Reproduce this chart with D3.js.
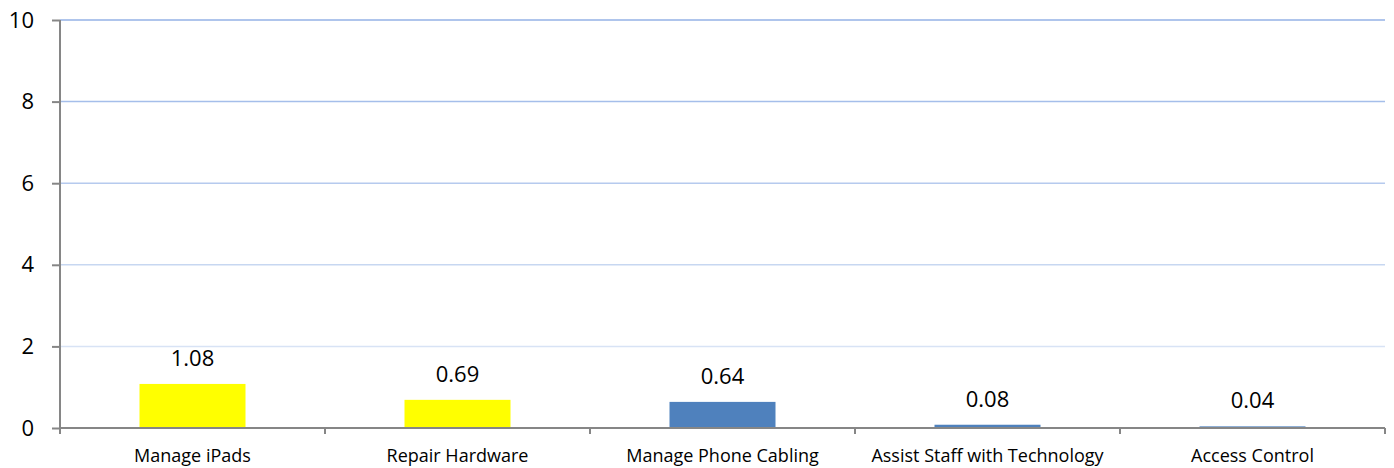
<!DOCTYPE html>
<html>
<head>
<meta charset="utf-8">
<script src="https://cdn.jsdelivr.net/npm/d3@7"></script>
<style>
  body { margin: 0; background: #fff; }
  svg text { font-family: "Open Sans", sans-serif; fill: #000; }
</style>
</head>
<body>
<svg id="chart" width="1394" height="468"></svg>
<script>
// chart data
const categories = ["Manage iPads", "Repair Hardware", "Manage Phone Cabling", "Assist Staff with Technology", "Access Control"];
const values = [1.08, 0.69, 0.64, 0.08, 0.04];
const yTicks = [0, 2, 4, 6, 8, 10];

const barColors = ["#ffff00", "#ffff00", "#4f81bd", "#4f81bd", "#4f81bd"];

const margin = { top: 20, right: 9, bottom: 40, left: 60 };
const width = 1394, height = 468;

const svg = d3.select("#chart");

const x = d3.scaleBand()
    .domain(categories)
    .range([margin.left, width - margin.right])
    .paddingInner(0.6)
    .paddingOuter(0.3);

// band boundaries (for category ticks)
const step = (width - margin.right - margin.left) / categories.length;

const y = d3.scaleLinear()
    .domain([0, 10])
    .range([height - margin.bottom, margin.top]);

// gridlines fade lighter toward the bottom
const gridColor = d3.scaleLinear().domain([0, 10]).range(["#e9eff9", "#94b2e6"]);

svg.append("g")
    .selectAll("line")
    .data(yTicks.filter(d => d > 0))
    .enter()
    .append("line")
    .attr("x1", margin.left)
    .attr("x2", width - margin.right)
    .attr("y1", d => y(d))
    .attr("y2", d => y(d))
    .attr("stroke", d => gridColor(d))
    .attr("stroke-width", 1.5);

// bars
svg.append("g")
    .selectAll("rect")
    .data(values)
    .enter()
    .append("rect")
    .attr("x", (d, i) => x(categories[i]))
    .attr("y", d => y(d))
    .attr("width", x.bandwidth())
    .attr("height", d => y(0) - y(d))
    .attr("fill", (d, i) => barColors[i]);

// value labels
svg.append("g")
    .selectAll("text")
    .data(values)
    .enter()
    .append("text")
    .attr("x", (d, i) => x(categories[i]) + x.bandwidth() / 2)
    .attr("y", d => y(d) - 18)
    .attr("text-anchor", "middle")
    .attr("font-size", "22px")
    .text(d => d.toFixed(2));

// y axis
const yAxis = svg.append("g")
    .attr("transform", `translate(${margin.left},0)`)
    .call(d3.axisLeft(y).tickValues(yTicks).tickSize(8).tickPadding(18).tickSizeOuter(0));
yAxis.select(".domain").attr("stroke", "#868686").attr("stroke-width", 2)
    .attr("d", `M0,${margin.top}V${y(0) + 6}`);
yAxis.selectAll(".tick line").attr("stroke", "#868686").attr("stroke-width", 2);
yAxis.selectAll(".tick text").attr("font-size", "22px").attr("font-family", "Open Sans, sans-serif");

// x axis
const xAxis = svg.append("g")
    .attr("transform", `translate(0,${y(0)})`);
xAxis.append("line")
    .attr("x1", margin.left)
    .attr("x2", width - margin.right)
    .attr("stroke", "#868686")
    .attr("stroke-width", 2);
xAxis.selectAll(".ctick")
    .data(d3.range(categories.length + 1))
    .enter()
    .append("line")
    .attr("x1", i => margin.left + i * step)
    .attr("x2", i => margin.left + i * step)
    .attr("y1", 0)
    .attr("y2", 6)
    .attr("stroke", "#868686")
    .attr("stroke-width", 2);
xAxis.selectAll(".clabel")
    .data(categories)
    .enter()
    .append("text")
    .attr("x", d => x(d) + x.bandwidth() / 2)
    .attr("y", 34)
    .attr("text-anchor", "middle")
    .attr("font-size", "18px")
    .text(d => d);
</script>
</body>
</html>
